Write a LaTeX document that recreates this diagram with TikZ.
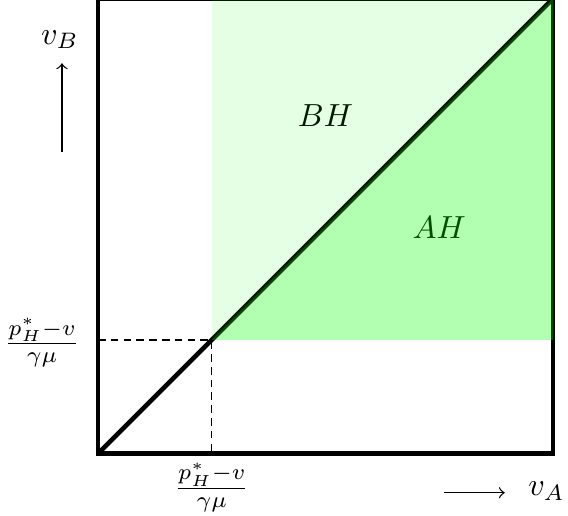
\documentclass[tikz,border=0pt]{standalone}
\usepackage{amsmath,amssymb}
\usepackage{tikz}

\begin{document}
\begin{tikzpicture}
  \useasboundingbox (-1.077,-0.681) rectangle (5.165,4.985);
  % box and diagonal
  \draw[line width=1.4pt] (0,0) rectangle (5,5);
  \draw[line width=1.4pt] (0,0) coordinate (o) -- (5,5) coordinate (top);
  \coordinate (p) at (1.25,1.25);
  \coordinate (px) at (1.25,0);
  \coordinate (py) at (0,1.25);
  \draw[dash pattern=on 2.4pt off 1.6pt] (py) -- (p) -- (px);
  % labels
  \node (fy) at (-0.615,1.22) {$\frac{p^*_H-v}{\gamma\mu}$};
  \node (fx) at (1.25,-0.37) {$\frac{p^*_H-v}{\gamma\mu}$};
  \node[anchor=base] (vb) at (-0.42,4.50) {$v_B$};
  \node[anchor=base] (va) at (4.93,-0.46) {$v_A$};
  \coordinate (ub) at (-0.396,3.32);
  \coordinate (ut) at (-0.396,4.29);
  \coordinate (rl) at (3.8,-0.43);
  \coordinate (rr) at (4.47,-0.43);
  \draw[->] (ub) -- (ut);
  \draw[->] (rl) -- (rr);
  \node (bh) at (2.5,3.72) {$BH$};
  \node (ah) at (3.75,2.48) {$AH$};
  % regions
  \fill[green,fill opacity=0.1] (p) -- (1.25,5) -- (top) -- cycle;
  \fill[green,fill opacity=0.3] (p) -- (5,1.25) -- (top) -- cycle;
\end{tikzpicture}
\end{document}
